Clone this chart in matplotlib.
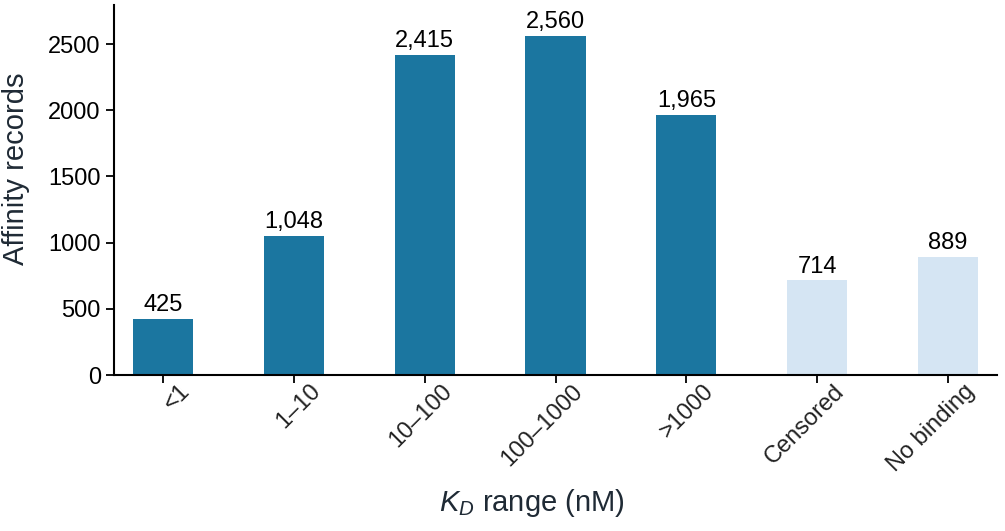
import matplotlib
matplotlib.use("Agg")
import matplotlib.pyplot as plt
import matplotlib.transforms as mtransforms

categories = ["<1", "1–10", "10–100", "100–1000", ">1000", "Censored", "No binding"]
values = [425, 1048, 2415, 2560, 1965, 714, 889]
is_measured = [True, True, True, True, True, False, False]

plt.rcParams['font.family'] = ['Liberation Sans', 'DejaVu Sans']
plt.rcParams['mathtext.fontset'] = 'custom'
plt.rcParams['mathtext.rm'] = 'Liberation Sans'
plt.rcParams['mathtext.it'] = 'Liberation Sans:italic'

dark = "#1b76a0"
light = "#d5e5f3"
colors = [dark if m else light for m in is_measured]

fig = plt.figure(figsize=(10.05, 5.31), dpi=100)
ax = fig.add_axes([114/1005, 1 - 375/531, (997-114)/1005, (375-5)/531])

x = list(range(len(categories)))
ax.bar(x, values, width=0.46, color=colors)
for xi, v in zip(x, values):
    ax.text(xi, v + 22, f"{v:,}", ha="center", va="bottom", fontsize=17, color="black")

ax.set_xlim(-0.375, 6.375)
ax.set_ylim(0, 2795)
ax.set_yticks([0, 500, 1000, 1500, 2000, 2500])
ax.set_xticks(x)
ax.set_xticklabels(categories, rotation=45, ha="right", rotation_mode="anchor", fontsize=17)
ax.tick_params(axis="y", labelsize=17, length=6, width=1.3)
ax.tick_params(axis="x", length=6, width=1.3)
offset = mtransforms.ScaledTranslation(16/100, 8/100, fig.dpi_scale_trans)
for lab in ax.get_xticklabels():
    lab.set_color("#222222")
    lab.set_transform(lab.get_transform() + offset)
for lab in ax.get_yticklabels():
    lab.set_color("black")

for s in ["top", "right"]:
    ax.spines[s].set_visible(False)
for s in ["left", "bottom"]:
    ax.spines[s].set_linewidth(1.5)

ax.set_ylabel("Affinity records", fontsize=21, color="#1f2a35", labelpad=11)
ax.yaxis.set_label_coords(-0.095, 0.557)
ax.set_xlabel("$K_D$ range (nM)", fontsize=21, color="#1f2a35", labelpad=8)
ax.xaxis.label.set_x(0.473)

fig.savefig("out.png", dpi=100)
